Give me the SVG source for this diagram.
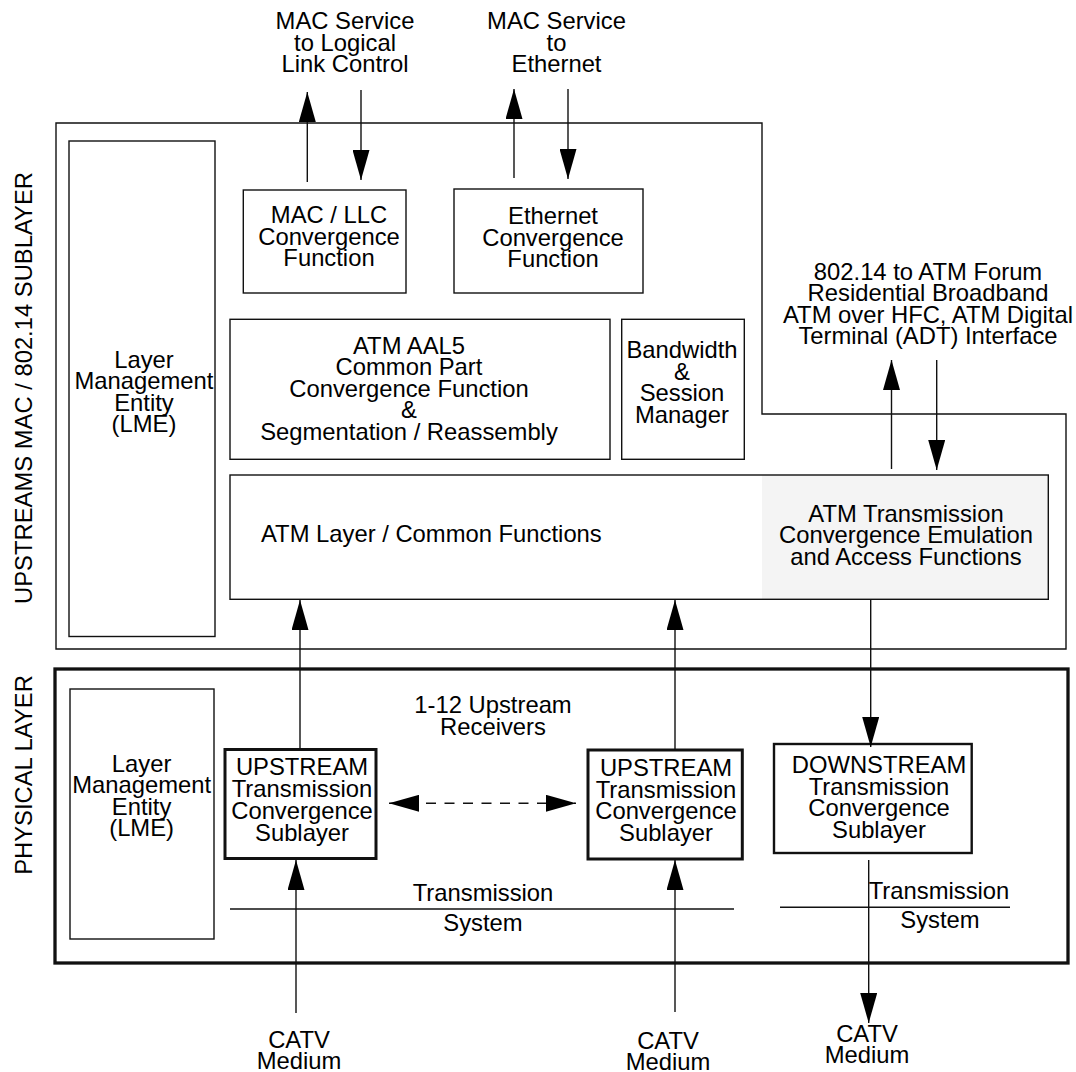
<svg xmlns="http://www.w3.org/2000/svg" width="1076" height="1072" viewBox="0 0 1076 1072">
<style>
text{font-family:"Liberation Sans",Arial,Helvetica,sans-serif;font-size:23.8px;fill:#000;text-anchor:middle}
.box{fill:none;stroke:#111;stroke-width:1.4}
.thick{fill:none;stroke:#111;stroke-width:3}
.ln{fill:none;stroke:#111;stroke-width:1.4}
.arr{fill:none;stroke:#111;stroke-width:1.4;marker-end:url(#ah)}
</style>
<defs>
<marker id="ah" viewBox="0 0 30 17" refX="30" refY="8.5" markerWidth="30" markerHeight="17" markerUnits="userSpaceOnUse" orient="auto-start-reverse"><path d="M0,0 L30,8.5 L0,17 z" fill="#000"/></marker>
</defs>
<rect width="1076" height="1072" fill="#fff"/>

<g id="mac-sublayer">
<path class="box" d="M56,123 H762 V414 H1066 V649 H56 Z"/>
<text transform="translate(32,388) rotate(-90)">UPSTREAMS MAC / 802.14 SUBLAYER</text>
</g>

<g id="physical-layer">
<rect x="55" y="669" width="1013" height="294" fill="none" stroke="#111" stroke-width="3.3"/>
<text transform="translate(32,775) rotate(-90)">PHYSICAL LAYER</text>
</g>

<g id="label-llc">
<text x="345" y="29.3">MAC Service</text>
<text x="345" y="50.7">to Logical</text>
<text x="345" y="72">Link Control</text>
</g>
<g id="label-ethernet">
<text x="556.5" y="29.3">MAC Service</text>
<text x="556.5" y="50.7">to</text>
<text x="556.5" y="72">Ethernet</text>
</g>
<g id="label-adt">
<text x="928" y="279.5">802.14 to ATM Forum</text>
<text x="928" y="301">Residential Broadband</text>
<text x="928" y="322.5">ATM over HFC, ATM Digital</text>
<text x="928" y="344">Terminal (ADT) Interface</text>
</g>

<g id="lme-upper">
<rect class="box" x="69" y="141" width="146" height="495.5"/>
<text x="144" y="367.5">Layer</text>
<text x="144" y="389">Management</text>
<text x="144" y="410.5">Entity</text>
<text x="144" y="432">(LME)</text>
</g>

<g id="mac-llc">
<rect class="box" x="243.3" y="190" width="162.7" height="103"/>
<text x="329" y="223">MAC / LLC</text>
<text x="329" y="244.5">Convergence</text>
<text x="329" y="266">Function</text>
</g>

<g id="ethernet-cf">
<rect class="box" x="454" y="189" width="189" height="104"/>
<text x="553" y="224">Ethernet</text>
<text x="553" y="245.5">Convergence</text>
<text x="553" y="267">Function</text>
</g>

<g id="aal5">
<rect class="box" x="230" y="319.3" width="380" height="140"/>
<text x="409" y="353.5">ATM AAL5</text>
<text x="409" y="375">Common Part</text>
<text x="409" y="396.5">Convergence Function</text>
<text x="409" y="418">&amp;</text>
<text x="409" y="439.5">Segmentation / Reassembly</text>
</g>

<g id="bandwidth">
<rect class="box" x="621.7" y="319.3" width="122.6" height="140"/>
<text x="682" y="358">Bandwidth</text>
<text x="682" y="379.5">&amp;</text>
<text x="682" y="401">Session</text>
<text x="682" y="422.5">Manager</text>
</g>

<g id="atm-layer">
<rect x="762" y="475" width="286" height="124.3" fill="#f4f4f4"/>
<rect class="box" x="230" y="475" width="818.3" height="124.3"/>
<text x="261" y="541.7" style="text-anchor:start">ATM Layer / Common Functions</text>
<text x="906" y="521.7">ATM Transmission</text>
<text x="906" y="543.3">Convergence Emulation</text>
<text x="906" y="565">and Access Functions</text>
</g>

<g id="lme-lower">
<rect class="box" x="70" y="689" width="144" height="250"/>
<text x="141.6" y="771.5">Layer</text>
<text x="141.6" y="793">Management</text>
<text x="141.6" y="814.5">Entity</text>
<text x="141.6" y="836">(LME)</text>
</g>

<g id="receivers-label">
<text x="493" y="713">1-12 Upstream</text>
<text x="493" y="735">Receivers</text>
</g>

<g id="upstream-1">
<rect class="thick" x="225" y="749.5" width="151" height="109"/>
<text x="302" y="775">UPSTREAM</text>
<text x="302" y="797">Transmission</text>
<text x="302" y="819">Convergence</text>
<text x="302" y="840.5">Sublayer</text>
</g>

<g id="upstream-2">
<rect class="thick" x="588" y="750" width="154.3" height="109"/>
<text x="666" y="775.7">UPSTREAM</text>
<text x="666" y="797.7">Transmission</text>
<text x="666" y="819">Convergence</text>
<text x="666" y="841">Sublayer</text>
</g>

<g id="downstream">
<rect class="box" style="stroke-width:2.4" x="774" y="744" width="197.7" height="109"/>
<text x="879" y="772.7">DOWNSTREAM</text>
<text x="879" y="795">Transmission</text>
<text x="879" y="816">Convergence</text>
<text x="879" y="838">Sublayer</text>
</g>

<g id="transmission-system-1">
<line class="ln" x1="230" y1="909" x2="734" y2="909"/>
<text x="483" y="900.7">Transmission</text>
<text x="483" y="930.7">System</text>
</g>

<g id="transmission-system-2">
<line class="ln" x1="780" y1="907.3" x2="1010" y2="907.3"/>
<text x="939" y="899">Transmission</text>
<text x="940" y="928">System</text>
</g>

<g id="catv-1">
<text x="299" y="1048.3">CATV</text>
<text x="299" y="1068.5">Medium</text>
</g>
<g id="catv-2">
<text x="668" y="1049">CATV</text>
<text x="668" y="1069.5">Medium</text>
</g>
<g id="catv-3">
<text x="867" y="1041.7">CATV</text>
<text x="867" y="1063.3">Medium</text>
</g>

<g id="connectors">
<line class="arr" x1="307.3" y1="182" x2="307.3" y2="92"/>
<line class="arr" x1="361" y1="90" x2="361" y2="180"/>
<line class="arr" x1="514" y1="178" x2="514" y2="89"/>
<line class="arr" x1="568" y1="89" x2="568" y2="179"/>
<line class="arr" x1="891.5" y1="469" x2="891.5" y2="360"/>
<line class="arr" x1="936.7" y1="360" x2="936.7" y2="470"/>
<line class="arr" x1="300" y1="749" x2="300" y2="600"/>
<line class="arr" x1="675" y1="750" x2="675" y2="600"/>
<line class="arr" x1="870.7" y1="599" x2="870.7" y2="747"/>
<line class="arr" x1="296" y1="1013" x2="296" y2="860"/>
<line class="arr" x1="675" y1="1012" x2="675" y2="860"/>
<line class="arr" x1="868.7" y1="860" x2="868.7" y2="1023"/>
<line x1="389" y1="803.3" x2="576" y2="803.3" stroke="#111" stroke-width="1.4" stroke-dasharray="10,8.5" marker-start="url(#ah)" marker-end="url(#ah)"/>
</g>
</svg>
